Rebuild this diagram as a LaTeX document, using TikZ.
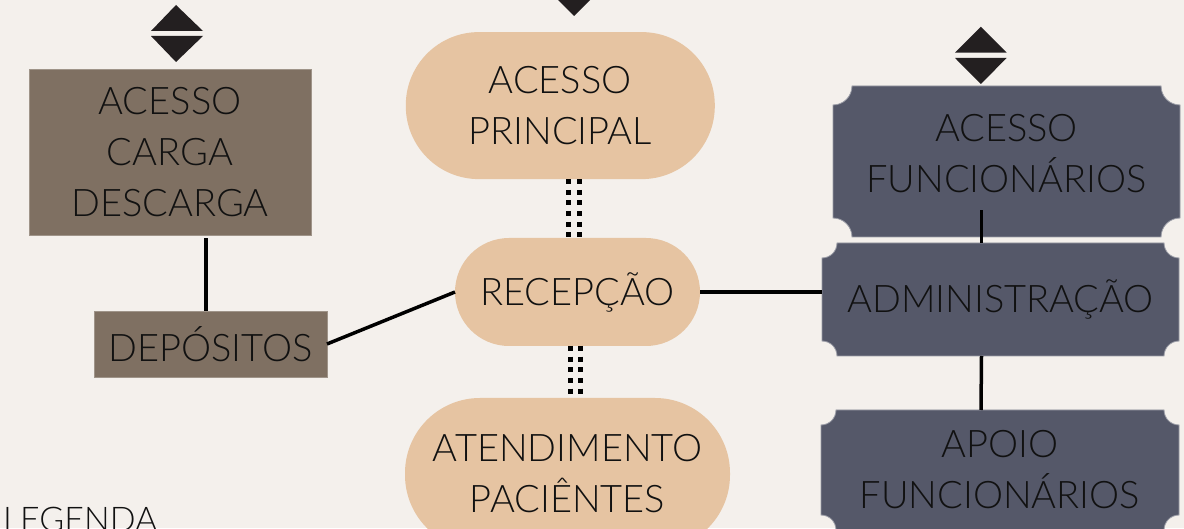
\documentclass[tikz,border=0pt]{standalone}
\usepackage{fontspec}
\setmainfont{Lato Light}
\usetikzlibrary{backgrounds}
\definecolor{bg}{HTML}{F4F0EC}
\definecolor{brownbox}{HTML}{7F7062}
\definecolor{pillc}{HTML}{E6C4A2}
\definecolor{slate}{HTML}{555869}
\definecolor{ink}{HTML}{111111}
\definecolor{tri}{HTML}{231F20}
\tikzset{
  lbl/.style={text=ink, align=center, inner sep=0pt, outer sep=0pt,
    font=\fontsize{38}{51}\selectfont},
  cargobox/.style={lbl, rectangle, fill=brownbox, draw=brownbox!75!white, line width=0.8pt},
  pillbox/.style={lbl, rectangle, fill=pillc},
  slatebox/.style={lbl, rectangle},
  scallopfill/.style={fill=slate, draw=slate!60!white, line width=0.8pt},
  conn/.style={draw=black, line width=3.5pt},
  dotline/.style={draw=black, line width=5pt, dash pattern=on 5pt off 5.67pt},
  tristyle/.style={fill=tri}
}
\newcommand\scallopshape[2]{%
  \path[scallopfill] ([xshift=#2pt]#1.north west) -- ([xshift=-#2pt]#1.north east)
    arc[start angle=180,end angle=270,radius=#2pt] -- ([yshift=#2pt]#1.south east)
    arc[start angle=90,end angle=180,radius=#2pt] -- ([xshift=#2pt]#1.south west)
    arc[start angle=0,end angle=90,radius=#2pt] -- ([yshift=-#2pt]#1.north west)
    arc[start angle=270,end angle=360,radius=#2pt] -- cycle;}
\begin{document}
\begin{tikzpicture}[x=1pt,y=1pt]
\useasboundingbox (0,0) rectangle (1184,528);
\clip (0,0) rectangle (1184,528);
\begin{scope}[on background layer]
  \fill[bg] (0,0) rectangle (1184,528);
\end{scope}

% access symbols
\fill[tristyle] (151,497) -- (203,497) -- (176,523) -- cycle;
\fill[tristyle] (151,492) -- (203,492) -- (176,466) -- cycle;
\fill[tristyle] (548,538) -- (600,538) -- (574,512) -- cycle;
\fill[tristyle] (955,475.3) -- (1006.7,475.3) -- (980.8,501.3) -- cycle;
\fill[tristyle] (955,470) -- (1006.7,470) -- (980.8,444) -- cycle;

% left column
\node[cargobox, minimum width=282pt, minimum height=166pt] (cargo) at (170,376) {ACESSO\\CARGA\\DESCARGA};
\node[cargobox, minimum width=233pt, minimum height=66pt] (dep) at (210.5,184) {DEPÓSITOS};

% centre column
\node[pillbox, minimum width=309pt, minimum height=147pt, rounded corners=73pt] (acessop) at (560.3,422.4) {ACESSO\\PRINCIPAL};
\node[pillbox, minimum width=245pt, minimum height=108pt, rounded corners=54pt] (recep) at (577.5,236) {RECEPÇÃO};
\node[pillbox, minimum width=325pt, minimum height=152pt, rounded corners=75pt] (atend) at (567.5,54) {ATENDIMENTO\\PACIÊNTES};

% right column
\node[slatebox, minimum width=347pt, minimum height=151pt] (acessof) at (1006.5,366.5) {};
\node[lbl] (acessoft) at (1006.5,374) {ACESSO\\FUNCIONÁRIOS};
\node[slatebox, minimum width=357pt, minimum height=113pt] (admin) at (1000.5,228.5) {ADMINISTRAÇÃO};
\node[slatebox, minimum width=358pt, minimum height=120pt] (apoio) at (1000,58) {APOIO\\FUNCIONÁRIOS};
\begin{scope}[on background layer]
  \scallopshape{acessof}{19}
  \scallopshape{admin}{15}
  \scallopshape{apoio}{15}
\end{scope}

% connectors
\draw[conn] ([xshift=-4.5pt]dep.north) -- ([xshift=-4.5pt,yshift=-3pt]dep.north |- cargo.south);
\draw[conn] (dep.east) -- (recep.west);
\draw[conn] (recep.east) -- (recep.east -| admin.west);
\draw[conn] ([xshift=-19pt]admin.north) -- ([xshift=-25pt,yshift=27pt]acessof.south);
\draw[conn] ([xshift=-19pt]admin.south) -- ([xshift=-19pt]apoio.north);
\draw[dotline] ([xshift=-9.5pt]recep.north |- acessop.south) -- ([xshift=-9.5pt]recep.north);
\draw[dotline] ([xshift=1.5pt]recep.north |- acessop.south) -- ([xshift=1.5pt]recep.north);
\draw[dotline] ([xshift=-7.2pt]recep.south) -- ([xshift=-7.2pt]recep.south |- atend.north);
\draw[dotline] ([xshift=3.2pt]recep.south) -- ([xshift=3.2pt]recep.south |- atend.north);

% legend
\node[lbl, anchor=base west, font=\fontsize{34}{40}\selectfont] (leg) at (3,-3) {LEGENDA};
\end{tikzpicture}
\end{document}
